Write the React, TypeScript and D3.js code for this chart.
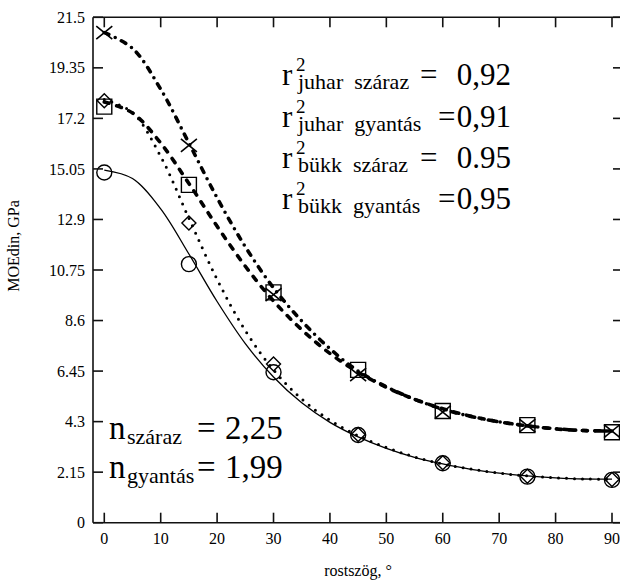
import React from "react";
import * as d3 from "d3";

// measured points (angle in degrees, MOEdin in GPa)
const angles = [0, 15, 30, 45, 60, 75, 90];
const seriesCross = [20.85, 16.05, 9.7, 6.3, 4.7, 4.13, 3.9];
const seriesSquare = [17.7, 14.37, 9.8, 6.5, 4.75, 4.15, 3.85];
const seriesDiamond = [17.95, 12.75, 6.75, 3.75, 2.55, 1.98, 1.84];
const seriesCircle = [14.9, 11.0, 6.4, 3.73, 2.53, 1.96, 1.82];

// fitted curves every 5 degrees
const fitAngles = [0, 5, 10, 15, 20, 25, 30, 35, 40, 45, 50, 55, 60, 65, 70, 75, 80, 85, 90];
const fitCross = [20.85, 20.18, 18.44, 16.15, 13.82, 11.74, 9.99, 8.58, 7.4, 6.45, 5.78, 5.25, 4.83, 4.52, 4.29, 4.12, 4.0, 3.92, 3.9];
const fitSquare = [17.9, 17.43, 16.15, 14.43, 12.61, 10.91, 9.43, 8.21, 7.2, 6.4, 5.76, 5.25, 4.85, 4.53, 4.29, 4.12, 3.99, 3.92, 3.9];
const fitDiamond = [18.0, 17.45, 15.58, 12.95, 10.35, 8.17, 6.5, 5.26, 4.36, 3.7, 3.2, 2.8, 2.5, 2.28, 2.11, 1.99, 1.91, 1.86, 1.85];
const fitCircle = [15.0, 14.64, 13.35, 11.43, 9.41, 7.62, 6.2, 5.1, 4.27, 3.65, 3.16, 2.78, 2.5, 2.27, 2.11, 1.99, 1.91, 1.86, 1.85];

const xTicks = [0, 10, 20, 30, 40, 50, 60, 70, 80, 90];
const yTicks = [0, 2.15, 4.3, 6.45, 8.6, 10.75, 12.9, 15.05, 17.2, 19.35, 21.5];
const yTickLabels = ["0", "2.15", "4.3", "6.45", "8.6", "10.75", "12.9", "15.05", "17.2", "19.35", "21.5"];

const rRows = [
  { sub: "juhar\u00a0\u00a0száraz", val: "0,92", eq: 420 },
  { sub: "juhar\u00a0\u00a0gyantás", val: "0,91", eq: 438 },
  { sub: "bükk\u00a0\u00a0száraz", val: "0.95", eq: 420 },
  { sub: "bükk\u00a0\u00a0gyantás", val: "0,95", eq: 438 },
];
const nRows = [
  { sub: "száraz", val: "2,25" },
  { sub: "gyantás", val: "1,99" },
];

const FONT = '"Liberation Serif"';

export default function App() {
  const W = 620, H = 581;
  const left = 93, right = 623, top = 17.3, bottom = 522.7;
  const x = d3.scaleLinear().domain([-2, 91.95]).range([left, right]);
  const y = d3.scaleLinear().domain([0, 21.5]).range([bottom, top]);

  const line = (vals: number[]) =>
    d3.line<number>()
      .x((_, i) => x(fitAngles[i]))
      .y((v) => y(v))
      .curve(d3.curveCatmullRom)(vals) || "";

  const crossPath = (cx: number, cy: number) =>
    `M${cx - 8},${cy - 6.5}L${cx + 8},${cy + 6.5}M${cx - 8},${cy + 6.5}L${cx + 8},${cy - 6.5}`;
  const squarePath = (cx: number, cy: number) =>
    `M${cx - 7.5},${cy - 7.5}h15v15h-15Z`;
  const diamondPath = (cx: number, cy: number) =>
    `M${cx},${cy - 7}L${cx + 7},${cy}L${cx},${cy + 7}L${cx - 7},${cy}Z`;

  const rBase = [85, 127, 168, 209];
  const nBase = [439, 478];
  const ts = (size: number) => ({ fontFamily: FONT, fontSize: size });

  return (
    <svg width={W} height={H} style={{ position: "absolute", left: 0, top: 0, background: "#fff" }}>
      <rect x={0} y={0} width={W} height={H} fill="#fff" />
      {/* fitted curves */}
      <path d={line(fitCircle)} fill="none" stroke="#000" strokeWidth={1.3} />
      <path d={line(fitDiamond)} fill="none" stroke="#000" strokeWidth={3} strokeDasharray="0 8" strokeLinecap="round" />
      <path d={line(fitSquare)} fill="none" stroke="#000" strokeWidth={3.6} strokeDasharray="5 8" strokeLinecap="round" />
      <path d={line(fitCross)} fill="none" stroke="#000" strokeWidth={3.6} strokeDasharray="5 7 0 7" strokeLinecap="round" />

      {/* markers */}
      {angles.map((a, i) => (
        <g key={"m" + a} fill="none" stroke="#000" strokeWidth={1.4}>
          <circle cx={x(a)} cy={y(seriesCircle[i])} r={7.5} />
          <path d={diamondPath(x(a), y(seriesDiamond[i]))} />
          <path d={squarePath(x(a), y(seriesSquare[i]))} />
          <path d={crossPath(x(a), y(seriesCross[i]))} strokeWidth={1.6} />
        </g>
      ))}

      {/* frame */}
      <g stroke="#111" strokeWidth={1.6} fill="none">
        <line x1={left} y1={top} x2={left} y2={bottom} />
        <line x1={left} y1={bottom} x2={right} y2={bottom} />
        <line x1={left} y1={top} x2={right} y2={top} />
        <line x1={right} y1={top} x2={right} y2={bottom} />
        {xTicks.map((t) => (
          <g key={"xt" + t}>
            <line x1={x(t)} x2={x(t)} y1={bottom} y2={bottom - 10} />
            <line x1={x(t)} x2={x(t)} y1={top} y2={top + 10} />
          </g>
        ))}
        {yTicks.map((t) => (
          <g key={"yt" + t}>
            <line x1={left} x2={left + 10} y1={y(t)} y2={y(t)} />
            <line x1={right} x2={right - 10} y1={y(t)} y2={y(t)} />
          </g>
        ))}
      </g>

      {/* tick labels */}
      {xTicks.map((t) => (
        <text key={"xl" + t} x={x(t)} y={544} textAnchor="middle" style={ts(16)} fill="#000">{t}</text>
      ))}
      {yTicks.map((t, i) => (
        <text key={"yl" + t} x={85} y={y(t)} dy="0.35em" textAnchor="end" style={ts(16)} fill="#000">{yTickLabels[i]}</text>
      ))}

      {/* axis titles */}
      <text x={358} y={576} textAnchor="middle" style={ts(16)} fill="#000">rostszög, °</text>
      <text transform={`translate(19,246) rotate(-90)`} textAnchor="middle" style={ts(16)} fill="#000">MOEdin, GPa</text>

      {/* r² annotations */}
      {rRows.map((r, i) => (
        <g key={"r" + i} fill="#000">
          <text x={282} y={rBase[i]} style={ts(31)}>r</text>
          <text x={296} y={rBase[i] - 14} style={ts(19)}>2</text>
          <text x={298} y={rBase[i] + 4} style={ts(22)}>{r.sub}</text>
          <text x={r.eq} y={rBase[i]} style={ts(31)}>=</text>
          <text x={511} y={rBase[i]} style={ts(31)} textAnchor="end">{r.val}</text>
        </g>
      ))}

      {/* n annotations */}
      {nRows.map((r, i) => (
        <g key={"n" + i} fill="#000">
          <text x={109} y={nBase[i]} style={ts(33)}>n</text>
          <text x={127} y={nBase[i] + 5} style={ts(22)}>{r.sub}</text>
          <text x={197} y={nBase[i]} style={ts(33)}>=</text>
          <text x={225} y={nBase[i]} style={ts(33)}>{r.val}</text>
        </g>
      ))}
    </svg>
  );
}
